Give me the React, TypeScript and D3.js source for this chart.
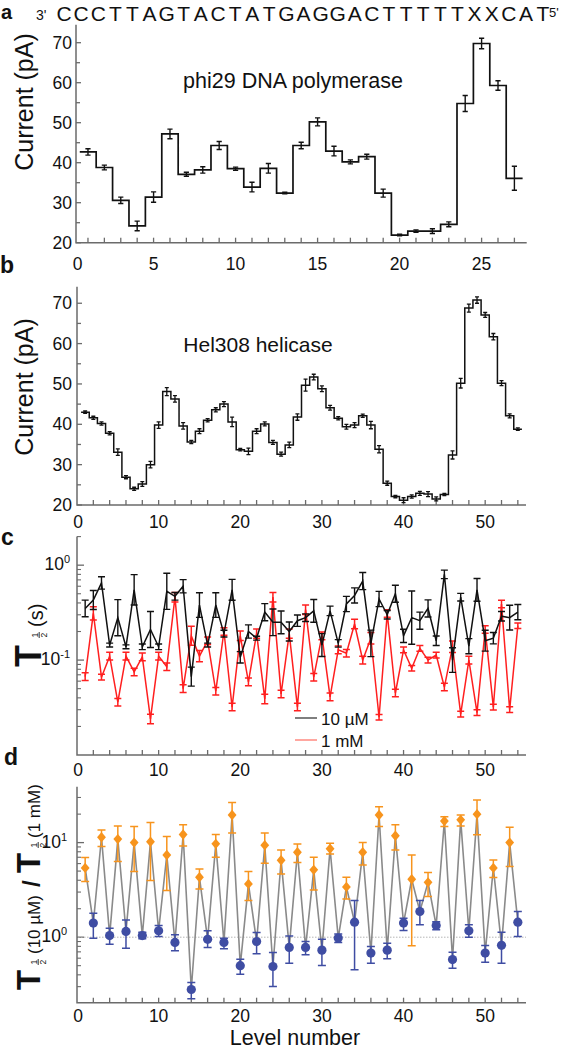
import React from 'react';
import * as d3 from 'd3';

const FONT = "'Liberation Sans', Arial, Helvetica, sans-serif";

// ---------- Sequence (panel a header) ----------
const sequence = ['C','C','C','T','T','A','G','T','A','C','T','A','T','G','A','G','G','A','C','T','T','T','T','T','X','X','C','A','T'];

// ---------- Panel a: phi29 DNA polymerase ----------
const levelsA = d3.range(1, 28);
const currentA = [42.7,38.8,30.6,24.2,31.4,47.2,37.1,38.2,44.3,38.5,33.9,38.6,32.4,44.3,50.2,42.9,40.2,41.5,32.4,21.9,22.9,22.9,24.6,54.8,69.8,59.3,36.1];
const errA = [0.8,0.6,0.8,1.2,1.3,1.2,0.5,0.8,1.0,0.4,1.2,1.2,0.2,0.8,1.0,1.2,0.5,0.6,1.0,0.2,0.3,0.6,0.6,2.0,1.3,1.2,3.0];
const xTicksA = d3.range(1, 28);
const xLabelsA = [0, 5, 10, 15, 20, 25];
const yLabelsAB = [20, 30, 40, 50, 60, 70];
const yMinorAB = [25, 35, 45, 55, 65];

// ---------- Panel b: Hel308 helicase ----------
const levelsB = d3.range(1, 55);
const currentB = [43.0,41.6,40.2,37.8,33.1,26.9,24.0,25.2,30.0,39.8,48.1,46.3,39.6,35.6,38.3,41.0,43.6,45.0,40.6,33.7,33.3,38.3,40.1,35.5,32.6,34.9,41.8,49.7,51.7,48.8,44.1,41.5,39.4,39.8,42.1,39.8,33.8,25.4,22.1,21.2,22.1,22.9,22.7,21.5,22.6,32.4,50.2,68.8,70.8,67.1,61.7,50.2,42.1,38.8];
const errB = [0.3,0.4,0.4,0.4,0.8,0.4,0.4,0.6,0.8,0.8,1.0,0.8,0.8,0.4,0.6,0.4,0.5,0.6,1.2,0.3,0.8,0.6,0.5,0.5,0.5,0.7,0.8,1.5,0.7,0.7,0.6,0.4,0.6,0.6,0.4,0.9,0.9,0.5,0.3,0.6,0.4,0.5,0.6,0.5,0.3,1.0,1.2,1.0,0.8,0.6,0.8,0.6,0.5,0.3];
const xTicksBCD = d3.range(2, 55, 2);
const xLabelsBCD = [0, 10, 20, 30, 40, 50];

// ---------- Panel c: dwell times (s), log10 error half-widths ----------
const dwell10uM = [0.35,0.43,0.65,0.144,0.28,0.138,0.55,0.138,0.21,0.138,0.53,0.47,0.6,0.067,0.38,0.144,0.38,0.19,0.55,0.107,0.2,0.17,0.32,0.25,0.25,0.2,0.26,0.28,0.33,0.144,0.33,0.15,0.39,0.48,0.68,0.15,0.44,0.3,0.5,0.18,0.28,0.26,0.35,0.16,0.8,0.1,0.46,0.14,0.55,0.16,0.17,0.29,0.28,0.32];
const dwell10uMErr = [0.088,0.1,0.065,0.02,0.19,0.02,0.16,0.03,0.19,0.03,0.19,0.04,0.07,0.1,0.13,0.02,0.13,0.035,0.11,0.06,0.07,0.02,0.09,0.14,0.12,0.1,0.06,0.04,0.12,0.12,0.05,0.04,0.08,0.08,0.09,0.14,0.08,0.045,0.09,0.07,0.28,0.09,0.09,0.05,0.045,0.13,0.04,0.08,0.12,0.11,0.06,0.05,0.13,0.08];
const dwell1mM = [0.067,0.31,0.066,0.11,0.036,0.11,0.075,0.108,0.024,0.11,0.085,0.46,0.05,0.18,0.11,0.16,0.047,0.2,0.032,0.18,0.059,0.19,0.039,0.46,0.044,0.19,0.032,0.34,0.066,0.18,0.041,0.128,0.118,0.24,0.1,0.17,0.025,0.31,0.045,0.128,0.082,0.133,0.1,0.113,0.052,0.138,0.027,0.1,0.028,0.21,0.032,0.39,0.03,0.23];
const dwell1mMErr = [0.04,0.07,0.03,0.04,0.04,0.04,0.04,0.04,0.05,0.04,0.04,0.05,0.04,0.1,0.06,0.04,0.04,0.04,0.04,0.05,0.04,0.05,0.05,0.05,0.04,0.05,0.04,0.05,0.04,0.04,0.04,0.04,0.04,0.05,0.04,0.06,0.03,0.04,0.04,0.03,0.03,0.03,0.03,0.03,0.04,0.06,0.03,0.04,0.03,0.04,0.03,0.04,0.03,0.03];
const legendC = [
  { label: '10 \u00b5M', color: '#555555' },
  { label: '1 mM', color: '#ff8a80' },
];

// ---------- Panel d: ratio T1/2(10 uM) / T1/2(1 mM) ----------
const ratio = [5.4,1.41,11.4,1.04,10.9,1.15,10.0,1.04,10.2,1.17,7.4,0.88,12.2,0.28,4.3,0.95,9.7,0.88,19.6,0.5,3.66,0.9,9.4,0.49,6.5,0.78,7.9,0.78,5.15,0.73,8.6,0.98,3.4,1.44,7.9,0.68,19.6,0.73,11.8,1.41,4.1,1.87,3.8,1.33,16.9,0.58,17.4,1.17,20.0,0.68,5.4,0.82,10.0,1.44];
const ratioHi = [6.95,1.79,13.6,1.24,15.0,1.52,14.8,1.13,16.3,1.33,11.6,1.06,15.4,0.332,5.27,1.17,12.2,0.976,26.5,0.586,4.94,1.12,12.6,0.689,8.37,1.03,9.68,0.9,7.0,0.953,9.84,1.08,4.3,2.44,10.0,0.797,24.0,0.865,15.4,1.59,7.41,2.44,4.82,1.46,18.8,0.695,19.6,1.35,28.2,0.817,6.56,1.13,14.5,1.87];
const ratioLo = [3.87,0.976,9.07,0.84,6.3,0.765,4.94,0.96,3.97,1.016,3.11,0.72,9.2,0.223,3.24,0.78,7.0,0.753,12.6,0.406,2.44,0.667,6.05,0.301,4.67,0.531,6.15,0.651,3.16,0.502,7.59,0.878,2.54,0.452,5.81,0.531,14.8,0.59,8.37,1.18,0.81,1.35,2.69,1.2,14.8,0.47,15.0,1.0,12.1,0.544,4.27,0.531,5.58,1.02];

const AXIS = '#6b6b6b';
const ORANGE = '#f7941d';
const BLUE = '#3f4da3';
const RED = '#ff1f1f';

function errPath(x: number, y1: number, y2: number, w: number) {
  return `M${x - w},${y1}H${x + w}M${x},${y1}V${y2}M${x - w},${y2}H${x + w}`;
}

function Half({ x, y1, bar, y2, size }: { x: number; y1: number; bar: number; y2: number; size: number }) {
  return (
    <g>
      <text x={x} y={y1} fontSize={size} textAnchor="middle">1</text>
      <line x1={x - 3} x2={x + 3} y1={bar} y2={bar} stroke="#000" strokeWidth={0.8} />
      <text x={x} y={y2} fontSize={size} textAnchor="middle">2</text>
    </g>
  );
}

const diamondType = {
  draw(ctx: any, size: number) {
    const r = Math.sqrt(size) * 0.62;
    ctx.moveTo(0, -r * 1.08);
    ctx.lineTo(r * 0.92, 0);
    ctx.lineTo(0, r * 1.08);
    ctx.lineTo(-r * 0.92, 0);
    ctx.closePath();
  },
};

export default function App() {
  // scales
  const xA = d3.scaleLinear().domain([0.27, 27.75]).range([76, 526.7]);
  const yA = d3.scaleLinear().domain([20, 74.5]).range([242.7, 24.7]);
  const xB = d3.scaleLinear().domain([0, 55]).range([77, 526]);
  const yB = d3.scaleLinear().domain([20, 74.1]).range([505, 286.7]);
  const yC = d3.scaleLog().domain([0.01, 2]).range([755, 536.6]);
  const yD = d3.scaleLog().domain([0.203, 39]).range([1002.7, 786.7]);
  const seqX = d3.scalePoint<number>().domain(d3.range(sequence.length)).range([64, 543]);

  const stepA: [number, number][] = levelsA.map((n, i) => [n - 0.5, currentA[i]] as [number, number]);
  stepA.push([levelsA[levelsA.length - 1] + 0.5, currentA[currentA.length - 1]]);
  const stepB: [number, number][] = levelsB.map((n, i) => [n - 0.5, currentB[i]] as [number, number]);
  stepB.push([levelsB[levelsB.length - 1] + 0.5, currentB[currentB.length - 1]]);

  const lineA = d3.line<[number, number]>().x(d => xA(d[0])).y(d => yA(d[1])).curve(d3.curveStepAfter);
  const lineB = d3.line<[number, number]>().x(d => xB(d[0])).y(d => yB(d[1])).curve(d3.curveStepAfter);
  const lineC10 = d3.line<number>().x((_, i) => xB(levelsB[i])).y(d => yC(d));
  const lineD = d3.line<number>().x((_, i) => xB(levelsB[i])).y(d => yD(d));
  const diamond = d3.symbol().type(diamondType as any).size(60)();

  const minorC = [0.02,0.03,0.04,0.05,0.06,0.07,0.08,0.09,0.2,0.3,0.4,0.5,0.6,0.7,0.8,0.9,2];
  const minorD = [0.3,0.4,0.5,0.6,0.7,0.8,0.9,2,3,4,5,6,7,8,9,20,30];

  const tickFs = 17.5;
  const xAxisB = (yAxis: number, labelBase: number, key: string) => (
    <g key={key}>
      {xTicksBCD.map(t => (
        <line key={t} x1={xB(t)} x2={xB(t)} y1={yAxis} y2={yAxis - 5} stroke={AXIS} strokeWidth={1.3} />
      ))}
      {xLabelsBCD.map(t => (
        <text key={t} x={Math.max(xB(t), 78)} y={labelBase} fontSize={tickFs} textAnchor="middle">{t}</text>
      ))}
    </g>
  );

  return (
    <svg width={563} height={1050} style={{ position: 'absolute', left: 0, top: 0, background: '#fff' }} fontFamily={FONT} fill="#111">
      {/* ---------- sequence ---------- */}
      <text x={36} y={20} fontSize={14}>3'</text>
      {sequence.map((s, i) => (
        <text key={i} x={seqX(i)} y={20.5} fontSize={21} textAnchor="middle">{s}</text>
      ))}
      <text x={549} y={17} fontSize={13}>5'</text>

      {/* panel letters */}
      <text x={1} y={18.5} fontSize={20} fontWeight="bold">a</text>
      <text x={0} y={273} fontSize={23} fontWeight="bold">b</text>
      <text x={1} y={545} fontSize={23} fontWeight="bold">c</text>
      <text x={4} y={765} fontSize={23} fontWeight="bold">d</text>

      {/* ---------- Panel a ---------- */}
      <path d={`M76,24.7V242.7H526.7`} fill="none" stroke={AXIS} strokeWidth={1.5} />
      {yLabelsAB.map(t => (
        <g key={t}>
          <line x1={76} x2={81} y1={yA(t)} y2={yA(t)} stroke={AXIS} strokeWidth={1.3} />
          <text x={72} y={yA(t) + 6} fontSize={tickFs} textAnchor="end">{t}</text>
        </g>
      ))}
      {yMinorAB.map(t => (
        <line key={t} x1={76} x2={80} y1={yA(t)} y2={yA(t)} stroke={AXIS} strokeWidth={1.3} />
      ))}
      {xTicksA.map(t => (
        <line key={t} x1={xA(t)} x2={xA(t)} y1={242.7} y2={237.7} stroke={AXIS} strokeWidth={1.3} />
      ))}
      {xLabelsA.map(t => (
        <text key={t} x={Math.max(xA(t), 77.7)} y={270} fontSize={tickFs} textAnchor="middle">{t}</text>
      ))}
      <path d={lineA(stepA) || ''} fill="none" stroke="#111" strokeWidth={1.7} />
      {levelsA.map((n, i) => (
        <path key={n} d={errPath(xA(n), yA(currentA[i] + errA[i]), yA(currentA[i] - errA[i]), 2.6)} fill="none" stroke="#111" strokeWidth={1.4} />
      ))}
      <text x={293} y={88} fontSize={21.5} textAnchor="middle">phi29 DNA polymerase</text>
      <text transform="translate(33,102) rotate(-90)" fontSize={25} textAnchor="middle">Current (pA)</text>

      {/* ---------- Panel b ---------- */}
      <path d={`M77,286.7V505H526`} fill="none" stroke={AXIS} strokeWidth={1.5} />
      {yLabelsAB.map(t => (
        <g key={t}>
          <line x1={77} x2={82} y1={yB(t)} y2={yB(t)} stroke={AXIS} strokeWidth={1.3} />
          <text x={72} y={yB(t) + 6} fontSize={tickFs} textAnchor="end">{t}</text>
        </g>
      ))}
      {yMinorAB.map(t => (
        <line key={t} x1={77} x2={81} y1={yB(t)} y2={yB(t)} stroke={AXIS} strokeWidth={1.3} />
      ))}
      {xAxisB(505, 528, 'bx')}
      <path d={lineB(stepB) || ''} fill="none" stroke="#111" strokeWidth={1.5} />
      {levelsB.map((n, i) => (
        <path key={n} d={errPath(xB(n), yB(currentB[i] + errB[i]), yB(currentB[i] - errB[i]), 2)} fill="none" stroke="#111" strokeWidth={1.3} />
      ))}
      <text x={258} y={352} fontSize={21} textAnchor="middle">Hel308 helicase</text>
      <text transform="translate(33,387) rotate(-90)" fontSize={25} textAnchor="middle">Current (pA)</text>

      {/* ---------- Panel c ---------- */}
      <path d={`M77,536.6V755H526`} fill="none" stroke={AXIS} strokeWidth={1.5} />
      {[0.1, 1].map(t => (
        <line key={t} x1={77} x2={84} y1={yC(t)} y2={yC(t)} stroke={AXIS} strokeWidth={1.3} />
      ))}
      {minorC.map(t => (
        <line key={t} x1={77} x2={81} y1={yC(t)} y2={yC(t)} stroke={AXIS} strokeWidth={1.1} />
      ))}
      <text x={70} y={yC(1) + 5} fontSize={tickFs} textAnchor="end">10<tspan dy={-7} fontSize={11}>0</tspan></text>
      <text x={70} y={yC(0.1) + 5} fontSize={tickFs} textAnchor="end">10<tspan dy={-7} fontSize={11}>-1</tspan></text>
      {xAxisB(755, 776, 'cx')}
      <path d={lineC10(dwell1mM) || ''} fill="none" stroke={RED} strokeWidth={1.5} />
      {levelsB.map((n, i) => (
        <path key={'r' + n} d={errPath(xB(n), yC(dwell1mM[i] * Math.pow(10, dwell1mMErr[i])), yC(dwell1mM[i] / Math.pow(10, dwell1mMErr[i])), 3.5)} fill="none" stroke={RED} strokeWidth={1.5} />
      ))}
      <path d={lineC10(dwell10uM) || ''} fill="none" stroke="#111" strokeWidth={1.5} />
      {levelsB.map((n, i) => (
        <path key={'k' + n} d={errPath(xB(n), yC(dwell10uM[i] * Math.pow(10, dwell10uMErr[i])), yC(dwell10uM[i] / Math.pow(10, dwell10uMErr[i])), 3.5)} fill="none" stroke="#111" strokeWidth={1.4} />
      ))}
      {legendC.map((l, i) => (
        <g key={l.label}>
          <line x1={295} x2={317} y1={718 + i * 22} y2={718 + i * 22} stroke={l.color} strokeWidth={1.5} />
          <text x={321} y={724.5 + i * 22} fontSize={17}>{l.label}</text>
        </g>
      ))}
      <g transform="translate(41,667) rotate(-90)">
        <text x={0} y={0} fontSize={36} fontWeight="bold">T</text>
        <Half x={32} y1={-3.5} bar={-1.8} y2={6} size={8.5} />
        <text x={40} y={2} fontSize={20}>(s)</text>
      </g>

      {/* ---------- Panel d ---------- */}
      <path d={`M77,786.7V1002.7H526`} fill="none" stroke={AXIS} strokeWidth={1.5} />
      {[1, 10].map(t => (
        <line key={t} x1={77} x2={84} y1={yD(t)} y2={yD(t)} stroke={AXIS} strokeWidth={1.3} />
      ))}
      {minorD.map(t => (
        <line key={t} x1={77} x2={81} y1={yD(t)} y2={yD(t)} stroke={AXIS} strokeWidth={1.1} />
      ))}
      <text x={67} y={yD(10) + 5} fontSize={tickFs} textAnchor="end">10<tspan dy={-7} fontSize={11}>1</tspan></text>
      <text x={67} y={yD(1) + 5} fontSize={tickFs} textAnchor="end">10<tspan dy={-7} fontSize={11}>0</tspan></text>
      {xAxisB(1002.7, 1021.5, 'dx')}
      <line x1={78} x2={526} y1={yD(1)} y2={yD(1)} stroke="#b5b5b5" strokeWidth={1} strokeDasharray="1.5,1.5" />
      <path d={lineD(ratio) || ''} fill="none" stroke="#8a8a8a" strokeWidth={1.6} />
      {levelsB.map((n, i) => {
        const c = n % 2 === 1 ? ORANGE : BLUE;
        return (
          <path key={'e' + n} d={errPath(xB(n), yD(ratioHi[i]), yD(ratioLo[i]), 4)} fill="none" stroke={c} strokeWidth={1.5} />
        );
      })}
      {levelsB.map((n, i) =>
        n % 2 === 1 ? (
          <path key={'m' + n} d={diamond || ''} transform={`translate(${xB(n)},${yD(ratio[i])})`} fill={ORANGE} />
        ) : (
          <circle key={'m' + n} cx={xB(n)} cy={yD(ratio[i])} r={4.6} fill={BLUE} />
        )
      )}
      <g transform="translate(40,990) rotate(-90)">
        <text x={0} y={0} fontSize={33} fontWeight="bold">T</text>
        <Half x={28} y1={-3.5} bar={-1.8} y2={6} size={8.5} />
        <text x={36} y={0} fontSize={17}>(10 {'\u00b5'}M)</text>
        <text x={103} y={0} fontSize={24} fontWeight="bold">/</text>
        <text x={117} y={0} fontSize={33} fontWeight="bold">T</text>
        <Half x={145} y1={-3.5} bar={-1.8} y2={6} size={8.5} />
        <text x={152} y={0} fontSize={17}>(1 mM)</text>
      </g>
      <text x={295} y={1045} fontSize={21.5} textAnchor="middle">Level number</text>
    </svg>
  );
}
